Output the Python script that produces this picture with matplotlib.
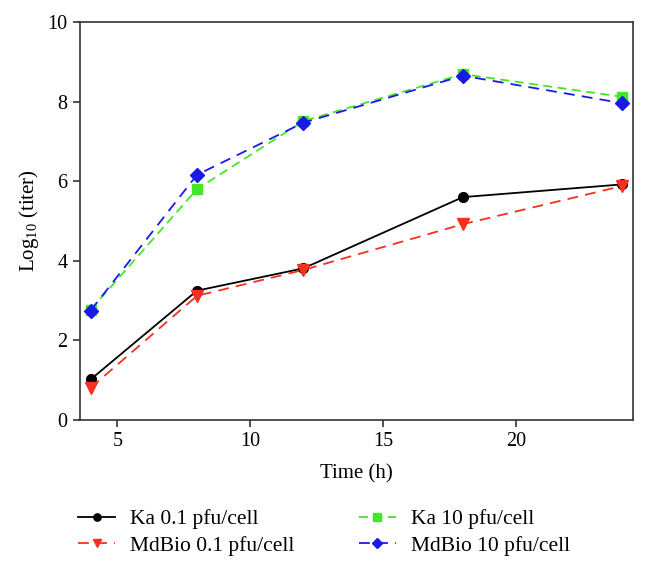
import matplotlib
matplotlib.use("Agg")
import matplotlib.pyplot as plt

plt.rcParams['font.family'] = ['Liberation Serif', 'DejaVu Serif']
plt.rcParams['mathtext.fontset'] = 'custom'
plt.rcParams['mathtext.rm'] = 'Liberation Serif'

time_h = [4, 8, 12, 18, 24]
ka_01 = [1.02, 3.25, 3.81, 5.60, 5.92]
mdbio_01 = [0.81, 3.12, 3.77, 4.92, 5.88]
ka_10 = [2.77, 5.80, 7.51, 8.69, 8.12]
mdbio_10 = [2.75, 6.16, 7.47, 8.65, 7.96]
labels = ["Ka 0.1 pfu/cell", "MdBio 0.1 pfu/cell", "Ka 10 pfu/cell", "MdBio 10 pfu/cell"]
x_ticks = [5, 10, 15, 20]
y_ticks = [0, 2, 4, 6, 8, 10]

fig = plt.figure(figsize=(6.48, 5.71), dpi=100)
W, H = 648, 571
ax = fig.add_axes([79.5 / W, 1 - 420 / H, (633 - 79.5) / W, (420 - 22) / H])

ax.plot(time_h, ka_01, color='black', lw=1.3, marker='o', ms=7, label=labels[0], zorder=3)
ax.plot(time_h, mdbio_01, color='#f4301e', lw=1.3, ls=(0, (6, 4)), marker='v', ms=8, label=labels[1], zorder=3)
ax.plot(time_h, ka_10, color='#44e626', lw=1.3, ls=(0, (5, 3)), marker='s', ms=7, label=labels[2], zorder=3)
ax.plot(time_h, mdbio_10, color='#1a1ae6', lw=1.3, ls=(0, (6, 4)), marker='D', ms=7, label=labels[3], zorder=4)

ax.set_xlim(3.58, 24.4)
ax.set_ylim(0, 10)
ax.set_xticks(x_ticks)
ax.set_yticks(y_ticks)
ax.tick_params(direction='out', length=5, width=1.1, labelsize=14.5, colors='#222222', labelcolor='black')
for s in ax.spines.values():
    s.set_linewidth(1.2)
    s.set_color('#333333')
ax.set_xlabel('Time (h)', fontsize=15, labelpad=10)
ax.set_ylabel(r'Log$_{\mathregular{10}}$ (titer)', fontsize=15, labelpad=5)

fig.legend(loc='center', bbox_to_anchor=(0.5, 1 - 532.5 / H), ncol=2, frameon=False,
           fontsize=15.5, handlelength=1.7, columnspacing=3.0, labelspacing=0.3,
           handletextpad=0.7, markerscale=0.75)

fig.savefig('out.png', dpi=100)
